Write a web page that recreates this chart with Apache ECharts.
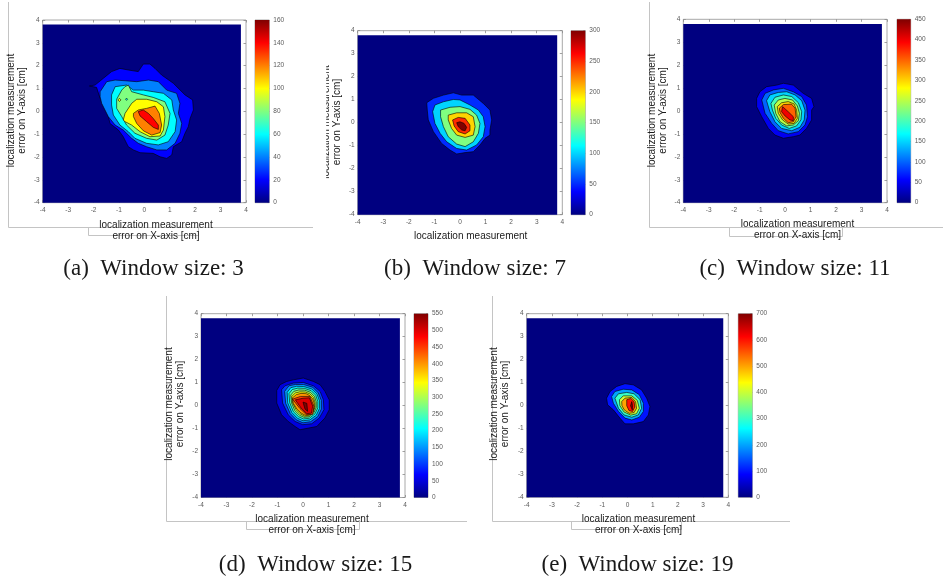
<!DOCTYPE html>
<html>
<head>
<meta charset="utf-8">
<script src="https://cdn.jsdelivr.net/npm/echarts@6/dist/echarts.min.js"></script>
<style>
  html, body { margin: 0; padding: 0; background: #ffffff; }
  #chart { width: 943px; height: 578px; }
</style>
</head>
<body>
<div id="chart"></div>
<script>
// ---- data -------------------------------------------------------------
const axisRange = [-4, 4];          // cm, both axes
const axisStep = 1;
const histExtent = [-4, 3.8];       // binned error range actually covered by the histogram

const captions = [
  '(a)  Window size: 3',
  '(b)  Window size: 7',
  '(c)  Window size: 11',
  '(d)  Window size: 15',
  '(e)  Window size: 19'
];
const colorMax = [160, 300, 450, 550, 700];
const colorStep = [20, 50, 50, 50, 100];

// filled contour regions, [level, [[x, y], ...]] in cm, drawn in order
const contoursA = [
  [20, [[-2.16,1.11],[-1.94,1.15],[-1.61,1.45],[-1.29,1.74],[-0.96,1.88],[-0.63,1.81],[-0.24,1.74],[-0.04,2.07],[0.22,2.07],[0.42,1.88],[0.68,1.59],[1.14,1.23],[1.60,0.72],[1.90,0.50],[1.93,0.06],[1.80,-0.31],[1.73,-0.67],[1.60,-0.96],[1.47,-1.33],[1.14,-1.55],[1.08,-1.91],[0.88,-2.06],[0.62,-1.99],[0.35,-1.84],[-0.17,-1.81],[-0.43,-1.69],[-0.63,-1.55],[-0.83,-1.11],[-1.02,-0.82],[-1.35,-0.53],[-1.48,0.06],[-1.74,0.57],[-1.88,1.05]]],
  [40, [[-1.74,0.86],[-1.48,1.30],[-1.15,1.37],[-0.76,1.34],[-0.30,1.30],[0.16,1.37],[0.55,1.30],[0.88,0.93],[1.27,0.79],[1.40,0.35],[1.34,-0.09],[1.47,-0.53],[1.40,-0.96],[1.21,-1.40],[0.88,-1.69],[0.49,-1.69],[0.09,-1.55],[-0.24,-1.40],[-0.50,-1.18],[-0.83,-0.82],[-1.15,-0.60],[-1.42,-0.23],[-1.68,0.35],[-1.74,0.64]]],
  [60, [[-1.29,0.72],[-1.15,1.08],[-0.70,1.15],[-0.43,0.93],[-0.04,0.93],[0.35,0.86],[0.75,0.79],[1.08,0.50],[1.14,0.06],[1.27,-0.38],[1.21,-0.89],[0.94,-1.33],[0.55,-1.47],[0.09,-1.40],[-0.37,-1.18],[-0.63,-0.89],[-0.96,-0.60],[-1.22,-0.16],[-1.29,0.28]]],
  [80, [[-1.09,0.53],[-0.89,0.93],[-0.76,1.08],[-0.63,1.15],[-0.50,0.86],[-0.04,0.72],[0.35,0.61],[0.81,0.42],[1.01,-0.09],[0.94,-0.60],[0.81,-1.04],[0.49,-1.26],[0.09,-1.18],[-0.37,-0.96],[-0.70,-0.60],[-0.89,-0.23],[-1.09,0.13]]],
  [60, [[-0.74,0.53],[-0.70,0.58],[-0.66,0.53],[-0.70,0.48]]],
  [100, [[-1.04,0.50],[-0.98,0.57],[-0.92,0.50],[-0.98,0.43]]],
  [100, [[-0.83,-0.38],[-0.76,-0.09],[-0.50,0.35],[-0.30,0.53],[0.09,0.53],[0.49,0.42],[0.75,0.20],[0.81,-0.23],[0.75,-0.82],[0.62,-1.08],[0.22,-1.11],[-0.17,-0.89],[-0.50,-0.60],[-0.76,-0.45]]],
  [120, [[-0.43,-0.09],[-0.24,0.06],[0.09,0.13],[0.42,0.23],[0.59,-0.09],[0.68,-0.60],[0.62,-0.93],[0.29,-1.04],[-0.04,-0.85],[-0.30,-0.53],[-0.43,-0.23]]],
  [140, [[-0.24,-0.01],[-0.04,0.06],[0.16,-0.09],[0.35,-0.31],[0.55,-0.60],[0.55,-0.79],[0.35,-0.70],[0.09,-0.45],[-0.17,-0.20]]]
];

const contoursB = [
  [50, [[-1.30,0.87],[-1.04,1.06],[-0.65,1.20],[-0.26,1.30],[0.07,1.20],[0.52,1.20],[0.91,0.84],[1.17,0.55],[1.24,0.12],[1.17,-0.32],[1.17,-0.54],[0.98,-0.68],[0.78,-0.97],[0.52,-1.26],[0.20,-1.30],[-0.13,-1.36],[-0.39,-1.19],[-0.72,-0.90],[-1.04,-0.39],[-1.24,0.12],[-1.28,0.55]]],
  [100, [[-1.07,0.48],[-0.98,0.77],[-0.65,0.91],[-0.26,1.01],[0.00,0.99],[0.39,0.77],[0.72,0.55],[0.91,0.26],[0.98,-0.17],[0.91,-0.61],[0.65,-0.97],[0.26,-1.19],[-0.13,-1.12],[-0.52,-0.83],[-0.78,-0.46],[-0.98,-0.03]]],
  [150, [[-0.76,0.55],[-0.39,0.67],[0.00,0.70],[0.39,0.58],[0.65,0.33],[0.78,-0.03],[0.72,-0.46],[0.52,-0.83],[0.20,-1.04],[-0.13,-0.93],[-0.46,-0.61],[-0.65,-0.17],[-0.76,0.26]]],
  [200, [[-0.46,0.33],[-0.13,0.43],[0.26,0.43],[0.52,0.26],[0.59,-0.17],[0.52,-0.54],[0.20,-0.64],[-0.13,-0.54],[-0.33,-0.25],[-0.46,0.12]]],
  [250, [[-0.29,0.12],[-0.07,0.23],[0.20,0.19],[0.39,-0.10],[0.39,-0.35],[0.20,-0.49],[-0.07,-0.39],[-0.23,-0.14]]],
  [300, [[-0.13,0.00],[0.00,0.04],[0.16,-0.03],[0.26,-0.20],[0.20,-0.35],[0.07,-0.32],[-0.07,-0.17]]]
];

const contoursC = [
  [50, [[-1.12,0.55],[-0.99,0.84],[-0.73,1.06],[-0.33,1.13],[-0.07,1.21],[0.32,1.13],[0.71,0.77],[1.04,0.55],[1.13,0.19],[1.04,0.04],[1.04,-0.39],[0.84,-0.76],[0.58,-1.05],[0.32,-1.12],[-0.07,-1.19],[-0.40,-1.05],[-0.66,-0.76],[-0.92,-0.25],[-1.12,0.19]]],
  [100, [[-0.92,0.48],[-0.79,0.77],[-0.46,0.92],[-0.07,0.99],[0.32,0.84],[0.65,0.63],[0.84,0.26],[0.88,-0.25],[0.78,-0.61],[0.52,-0.90],[0.12,-1.00],[-0.27,-0.86],[-0.53,-0.54],[-0.79,-0.10]]],
  [150, [[-0.73,0.45],[-0.60,0.70],[-0.27,0.81],[0.06,0.84],[0.39,0.70],[0.65,0.45],[0.78,0.04],[0.75,-0.39],[0.58,-0.71],[0.26,-0.86],[-0.14,-0.76],[-0.40,-0.47],[-0.60,-0.03]]],
  [200, [[-0.56,0.33],[-0.40,0.60],[-0.07,0.70],[0.26,0.63],[0.52,0.36],[0.65,-0.03],[0.62,-0.39],[0.45,-0.65],[0.16,-0.76],[-0.14,-0.61],[-0.37,-0.32],[-0.50,0.04]]],
  [250, [[-0.43,0.26],[-0.27,0.48],[-0.01,0.55],[0.29,0.48],[0.48,0.22],[0.56,-0.10],[0.52,-0.42],[0.32,-0.61],[0.06,-0.65],[-0.20,-0.47],[-0.37,-0.10]]],
  [300, [[-0.31,0.19],[-0.14,0.36],[0.12,0.41],[0.35,0.31],[0.45,0.04],[0.48,-0.32],[0.35,-0.54],[0.12,-0.57],[-0.10,-0.39],[-0.27,-0.10]]],
  [350, [[-0.23,0.12],[-0.07,0.28],[0.25,0.30],[0.39,0.12],[0.43,-0.25],[0.32,-0.47],[0.12,-0.51],[-0.07,-0.32],[-0.20,-0.07]]],
  [400, [[-0.10,0.19],[0.12,-0.03],[0.32,-0.25],[0.32,-0.42],[0.19,-0.39],[0.00,-0.22],[-0.14,-0.03]]]
];

const contoursD = [
  [50, [[-1.03,0.66],[-0.90,0.91],[-0.64,1.05],[-0.38,1.12],[0.01,1.20],[0.41,1.05],[0.67,0.91],[0.86,0.62],[1.03,0.25],[1.03,-0.18],[0.86,-0.54],[0.54,-0.91],[0.21,-0.98],[-0.12,-1.05],[-0.31,-0.91],[-0.58,-0.69],[-0.84,-0.40],[-1.03,0.11]]],
  [100, [[-0.84,0.69],[-0.71,0.86],[-0.38,0.98],[0.01,1.01],[0.41,0.86],[0.67,0.62],[0.80,0.25],[0.82,-0.18],[0.64,-0.54],[0.34,-0.79],[-0.01,-0.83],[-0.31,-0.69],[-0.58,-0.40],[-0.80,0.11]]],
  [150, [[-0.72,0.62],[-0.55,0.86],[-0.30,0.92],[0.02,0.92],[0.38,0.80],[0.60,0.55],[0.72,0.22],[0.72,-0.15],[0.58,-0.48],[0.30,-0.70],[0.00,-0.75],[-0.26,-0.62],[-0.50,-0.35],[-0.68,0.10]]],
  [200, [[-0.62,0.58],[-0.48,0.78],[-0.25,0.84],[0.03,0.83],[0.35,0.72],[0.55,0.50],[0.65,0.20],[0.65,-0.12],[0.52,-0.42],[0.27,-0.62],[0.00,-0.66],[-0.22,-0.55],[-0.44,-0.30],[-0.60,0.12]]],
  [250, [[-0.55,0.52],[-0.42,0.70],[-0.20,0.76],[0.05,0.75],[0.32,0.65],[0.50,0.45],[0.58,0.18],[0.58,-0.10],[0.47,-0.36],[0.25,-0.55],[0.02,-0.58],[-0.18,-0.48],[-0.38,-0.26],[-0.52,0.12]]],
  [300, [[-0.48,0.46],[-0.36,0.62],[-0.16,0.68],[0.07,0.67],[0.29,0.58],[0.45,0.40],[0.52,0.16],[0.52,-0.08],[0.43,-0.31],[0.24,-0.49],[0.04,-0.51],[-0.14,-0.42],[-0.32,-0.22],[-0.45,0.12]]],
  [350, [[-0.44,0.40],[-0.30,0.55],[-0.12,0.60],[0.09,0.59],[0.27,0.51],[0.41,0.35],[0.47,0.14],[0.47,-0.08],[0.40,-0.28],[0.23,-0.44],[0.06,-0.46],[-0.11,-0.36],[-0.27,-0.18],[-0.41,0.12]]],
  [400, [[-0.42,0.33],[-0.26,0.48],[-0.08,0.53],[0.12,0.52],[0.26,0.44],[0.38,0.30],[0.44,0.10],[0.44,-0.10],[0.37,-0.28],[0.22,-0.40],[0.08,-0.42],[-0.08,-0.32],[-0.24,-0.15],[-0.38,0.10]]],
  [450, [[-0.41,0.28],[-0.10,0.40],[0.27,0.40],[0.43,-0.03],[0.38,-0.38],[0.14,-0.40],[-0.12,-0.13]]],
  [500, [[-0.30,0.25],[0.00,0.32],[0.25,0.34],[0.38,-0.02],[0.33,-0.33],[0.15,-0.35],[-0.08,-0.10]]],
  [550, [[0.00,0.15],[0.15,0.10],[0.18,-0.25],[0.08,-0.15]]]
];

const contoursE = [
  [100, [[-0.83,0.32],[-0.69,0.61],[-0.43,0.83],[-0.10,0.95],[0.23,0.90],[0.56,0.68],[0.76,0.32],[0.89,-0.04],[0.83,-0.41],[0.63,-0.70],[0.23,-0.80],[-0.10,-0.80],[-0.30,-0.55],[-0.56,-0.19],[-0.79,0.03]]],
  [200, [[-0.63,0.39],[-0.50,0.61],[-0.17,0.71],[0.17,0.68],[0.47,0.47],[0.63,0.10],[0.63,-0.26],[0.47,-0.51],[0.17,-0.63],[-0.10,-0.55],[-0.36,-0.26],[-0.56,0.10]]],
  [300, [[-0.50,0.32],[-0.36,0.51],[-0.03,0.57],[0.26,0.51],[0.50,0.25],[0.56,-0.12],[0.43,-0.41],[0.17,-0.51],[-0.14,-0.41],[-0.36,-0.12]]],
  [400, [[-0.32,0.25],[-0.17,0.42],[0.17,0.42],[0.39,0.22],[0.47,-0.12],[0.36,-0.36],[0.13,-0.42],[-0.14,-0.28],[-0.30,-0.01]]],
  [500, [[-0.23,0.17],[-0.10,0.32],[0.17,0.35],[0.32,0.17],[0.36,-0.12],[0.26,-0.31],[0.07,-0.34],[-0.13,-0.19],[-0.22,-0.01]]],
  [600, [[-0.03,0.25],[0.13,0.31],[0.26,0.17],[0.29,-0.07],[0.20,-0.26],[0.06,-0.22],[-0.03,-0.01]]],
  [700, [[0.17,0.17],[0.20,-0.01],[0.19,-0.19],[0.12,-0.01]]]
];

const panelContours = [contoursA, contoursB, contoursC, contoursD, contoursE];

// ---- layout (pixels) ---------------------------------------------------
const plotBoxes = [
  { left: 42.7, top: 20, width: 203.3, height: 182.7 },
  { left: 357.7, top: 30.7, width: 204.6, height: 184 },
  { left: 683.3, top: 19.3, width: 203.7, height: 183.4 },
  { left: 201, top: 313.7, width: 204, height: 183.8 },
  { left: 526.7, top: 313.7, width: 201.6, height: 183.6 }
];
const barBoxes = [
  { left: 255, top: 20, width: 14.3, height: 182.7 },
  { left: 571, top: 30.7, width: 14.3, height: 184 },
  { left: 897, top: 19.3, width: 13.7, height: 183.4 },
  { left: 414, top: 313.7, width: 14, height: 183.8 },
  { left: 738.3, top: 313.7, width: 14, height: 183.6 }
];

// MATLAB-style jet colormap
function jet(t) {
  t = Math.max(0, Math.min(1, t));
  const c = v => Math.round(255 * Math.max(0, Math.min(1, v)));
  return 'rgb(' + c(1.5 - Math.abs(4 * t - 3)) + ',' + c(1.5 - Math.abs(4 * t - 2)) + ',' + c(1.5 - Math.abs(4 * t - 1)) + ')';
}
const jetStops = [0, 0.125, 0.375, 0.625, 0.875, 1].map(o => ({ offset: o, color: jet(o) }));

const tickColor = '#5a5a5a';
const boxColor = '#a8a8a8';
const sansFont = '"Liberation Sans", Arial, sans-serif';

const grids = [], xAxes = [], yAxes = [], series = [];

plotBoxes.forEach((box, p) => {
  const gPlot = grids.length;
  grids.push(Object.assign({ show: true, borderColor: boxColor, borderWidth: 1, backgroundColor: 'transparent' }, box));
  const gBar = grids.length;
  grids.push(Object.assign({ show: true, borderColor: boxColor, borderWidth: 1, backgroundColor: 'transparent' }, barBoxes[p]));

  const tickLabel = { show: true, fontSize: 6.5, color: tickColor, fontFamily: sansFont };
  const common = { type: 'value', min: axisRange[0], max: axisRange[1], interval: axisStep,
    splitLine: { show: false }, axisLine: { show: false, onZero: false },
    axisTick: { show: true, inside: true, length: 2.5, lineStyle: { color: '#8a8a8a', width: 0.8 } } };

  const xBottom = xAxes.length;
  xAxes.push(Object.assign({}, common, { gridIndex: gPlot, position: 'bottom', axisLabel: Object.assign({ margin: 4 }, tickLabel) }));
  xAxes.push(Object.assign({}, common, { gridIndex: gPlot, position: 'top', axisLabel: { show: false } }));
  const yLeft = yAxes.length;
  yAxes.push(Object.assign({}, common, { gridIndex: gPlot, position: 'left', axisLabel: Object.assign({ margin: 3 }, tickLabel) }));
  yAxes.push(Object.assign({}, common, { gridIndex: gPlot, position: 'right', axisLabel: { show: false } }));

  const xBar = xAxes.length;
  xAxes.push({ type: 'value', gridIndex: gBar, min: 0, max: 1, show: false });
  const yBar = yAxes.length;
  yAxes.push({ type: 'value', gridIndex: gBar, min: 0, max: colorMax[p], interval: colorStep[p], position: 'right',
    splitLine: { show: false }, axisLine: { show: false, onZero: false },
    axisTick: { show: true, inside: true, length: 2, lineStyle: { color: '#8a8a8a', width: 0.8 } },
    axisLabel: Object.assign({ margin: 4 }, tickLabel) });

  // histogram support (lowest level) followed by the filled contour bands
  const regions = [[0, [[histExtent[0], histExtent[0]], [histExtent[1], histExtent[0]], [histExtent[1], histExtent[1]], [histExtent[0], histExtent[1]]]]]
    .concat(panelContours[p]);
  const maxV = colorMax[p];
  series.push({
    type: 'custom', coordinateSystem: 'cartesian2d', xAxisIndex: xBottom, yAxisIndex: yLeft,
    clip: false, silent: true, animation: false,
    data: regions.map(r => [r[1][0][0], r[1][0][1]]),
    renderItem: function (params, api) {
      const r = regions[params.dataIndex];
      const pts = r[1].map(pt => api.coord(pt));
      return {
        type: 'polygon',
        shape: { points: pts },
        style: { fill: jet(r[0] / maxV), stroke: r[0] > 0 ? '#000000' : null, lineWidth: 0.6, lineJoin: 'round' }
      };
    }
  });

  // colour bar spanning 0 .. max of the colour scale
  series.push({
    type: 'custom', coordinateSystem: 'cartesian2d', xAxisIndex: xBar, yAxisIndex: yBar,
    silent: true, animation: false,
    data: [[0, 0, 1, maxV]],
    renderItem: function (params, api) {
      const a = api.coord([api.value(0), api.value(1)]);
      const b = api.coord([api.value(2), api.value(3)]);
      return {
        type: 'rect',
        shape: { x: a[0], y: b[1], width: b[0] - a[0], height: a[1] - b[1] },
        style: { fill: { type: 'linear', x: 0, y: 1, x2: 0, y2: 0, colorStops: jetStops } }
      };
    }
  });
});

// ---- text and frame lines ----------------------------------------------
const yLabel = 'localization measurement\nerror on Y-axis [cm]';
const xLabel = 'localization measurement\nerror on X-axis [cm]';
const graphic = [];
function text(str, x, y, font, rot, extra) {
  graphic.push(Object.assign({
    type: 'text', x: x, y: y, rotation: rot || 0, z: 50,
    style: { text: str, font: font, fill: '#1a1a1a', textAlign: 'center', textVerticalAlign: 'middle',
      align: 'center', verticalAlign: 'middle', lineHeight: 11 }
  }, extra || {}));
}
function line(x1, y1, x2, y2) {
  graphic.push({ type: 'line', z: 40, shape: { x1: x1, y1: y1, x2: x2, y2: y2 },
    style: { stroke: '#c4c4c4', lineWidth: 1 } });
}
const labelFont = '10px ' + sansFont;
const capFont = '23px "Liberation Serif", "Times New Roman", serif';

// frame outlines
[[8.5, 2, 227.5, 8.5, 313, 88.5, 198.5, 235.5],
 [649.5, 2, 227.5, 649.5, 943, 729.5, 842.5, 236.5],
 [166.5, 296, 521.5, 166.5, 467, 246.5, 359.5, 529.5],
 [492.5, 296, 521.5, 492.5, 790, 571.5, 681.5, 529.5]].forEach(f => {
  line(f[0], f[1], f[0], f[2]);
  line(f[3], f[2], f[4], f[2]);
  line(f[5], f[2], f[5], f[7]);
  line(f[5], f[7], f[6], f[7]);
  line(f[6], f[2], f[6], f[7]);
});

// axis titles
text(yLabel, 17.2, 110.5, labelFont, Math.PI / 2);
text(yLabel, 331.8, 122, labelFont, Math.PI / 2);
text(yLabel, 657.5, 110.5, labelFont, Math.PI / 2);
text(yLabel, 175, 404, labelFont, Math.PI / 2);
text(yLabel, 500, 404, labelFont, Math.PI / 2);
graphic.push({ type: 'rect', z: 60, shape: { x: 314, y: 30, width: 12.2, height: 190 }, style: { fill: '#ffffff' } });

text(xLabel, 156, 230.3, labelFont);
text('localization measurement', 470.7, 236.7, labelFont);
text(xLabel, 797.5, 230, labelFont);
text(xLabel, 312, 525, labelFont);
text(xLabel, 638.5, 524.3, labelFont);

// sub-figure captions
text(captions[0], 153.5, 268.5, capFont);
text(captions[1], 475, 268.5, capFont);
text(captions[2], 795, 268.5, capFont);
text(captions[3], 315.5, 565, capFont);
text(captions[4], 637.5, 565, capFont);

const chart = echarts.init(document.getElementById('chart'), null, { renderer: 'canvas' });
chart.setOption({
  animation: false,
  backgroundColor: '#ffffff',
  grid: grids,
  xAxis: xAxes,
  yAxis: yAxes,
  series: series,
  graphic: graphic
});
</script>
</body>
</html>
